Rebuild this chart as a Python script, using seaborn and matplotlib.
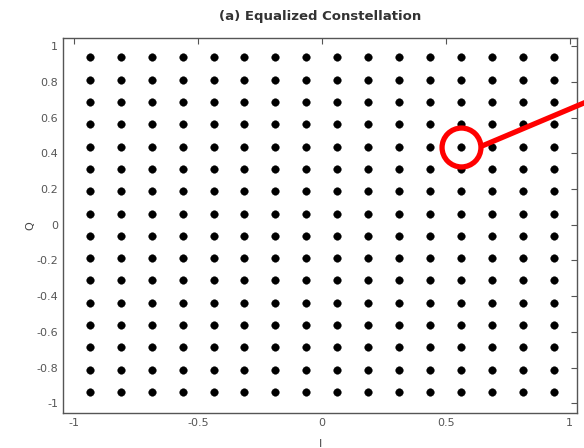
import numpy as np
import pandas as pd
import seaborn as sns
import matplotlib.pyplot as plt
from matplotlib.lines import Line2D

# 256-QAM constellation levels (I and Q)
i_levels = [-0.9375, -0.8125, -0.6875, -0.5625, -0.4375, -0.3125, -0.1875, -0.0625,
            0.0625, 0.1875, 0.3125, 0.4375, 0.5625, 0.6875, 0.8125, 0.9375]
q_levels = [-0.9375, -0.8125, -0.6875, -0.5625, -0.4375, -0.3125, -0.1875, -0.0625,
            0.0625, 0.1875, 0.3125, 0.4375, 0.5625, 0.6875, 0.8125, 0.9375]
x_ticks = [-1, -0.5, 0, 0.5, 1]
y_ticks = [-1, -0.8, -0.6, -0.4, -0.2, 0, 0.2, 0.4, 0.6, 0.8, 1]
highlight = (0.5625, 0.4375)

ii, qq = np.meshgrid(i_levels, q_levels)
df = pd.DataFrame({'I': ii.ravel(), 'Q': qq.ravel()})

sns.set_style('white')
plt.rcParams['font.family'] = ['DejaVu Sans']

fig = plt.figure(figsize=(5.84, 4.48), dpi=100)
ax = fig.add_axes([0.108, 0.078, 0.880, 0.837])

sns.scatterplot(data=df, x='I', y='Q', color='black', s=30, marker='o',
                edgecolor='black', linewidth=0.3, ax=ax)

# highlighted symbol
ax.plot(highlight[0], highlight[1], marker='o', markersize=28, markerfacecolor='none',
        markeredgecolor='red', markeredgewidth=3.8, zorder=5)

# pointer line heading out of the figure
fig.add_artist(Line2D([482 / 584, 1.02], [1 - 146 / 448, 1 - 98 / 448],
                      color='red', linewidth=3.8, transform=fig.transFigure))

ax.set_xlim(-1.045, 1.03)
ax.set_ylim(-1.055, 1.045)
ax.set_xticks(x_ticks)
ax.set_xticklabels(['-1', '-0.5', '0', '0.5', '1'])
ax.set_yticks(y_ticks)
ax.set_yticklabels(['-1', '-0.8', '-0.6', '-0.4', '-0.2', '0', '0.2', '0.4', '0.6', '0.8', '1'])
ax.tick_params(direction='in', top=True, right=True, length=4, width=0.8,
               labelsize=8, colors='#555555')
for sp in ax.spines.values():
    sp.set_color('#555555')
    sp.set_linewidth(1.0)

ax.set_title('(a) Equalized Constellation', fontsize=9.5, fontweight='bold',
             color='#333333', pad=13)
ax.set_xlabel('I', fontsize=8, color='#444444', labelpad=8)
ax.set_ylabel('Q', fontsize=8, color='#444444', labelpad=1)

fig.savefig('out.png', dpi=100)
